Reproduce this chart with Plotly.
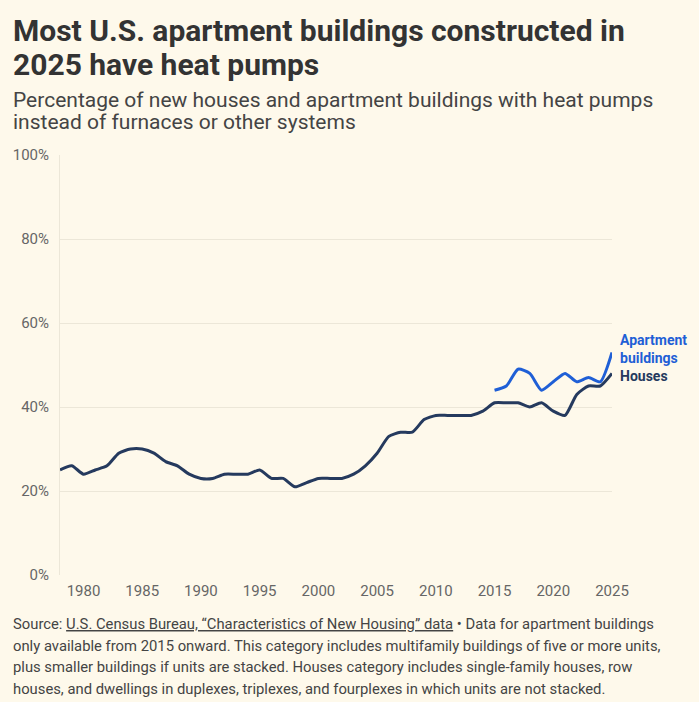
import plotly.graph_objects as go

# values (percent of new units with heat pumps)
years = list(range(1978, 2026))
houses = [25, 26, 24, 25, 26, 29, 30, 30, 29, 27,
          26, 24, 23, 23, 24, 24, 24, 25, 23, 23,
          21, 22, 23, 23, 23, 24, 26, 29, 33, 34,
          34, 37, 38, 38, 38, 38, 39, 41, 41, 41,
          40, 41, 39, 38, 43, 45, 45, 48]
apt_years = list(range(2015, 2026))
apartments = [44, 45, 49, 48, 44, 46, 48, 46, 47, 46, 53]

x_ticks = [1980, 1985, 1990, 1995, 2000, 2005, 2010, 2015, 2020, 2025]
y_ticks = [0, 20, 40, 60, 80, 100]
y_labels = ["0%", "20%", "40%", "60%", "80%", "100%"]

title_lines = ["Most U.S. apartment buildings constructed in",
               "2025 have heat pumps"]
subtitle_lines = ["Percentage of new houses and apartment buildings with heat pumps",
                  "instead of furnaces or other systems"]
footer_lines = [
    "Source: <span style='text-decoration:underline'>U.S. Census Bureau, \u201cCharacteristics of New Housing\u201d data</span>"
    " \u2022 Data for apartment buildings",
    "only available from 2015 onward. This category includes multifamily buildings of five or more units,",
    "plus smaller buildings if units are stacked. Houses category includes single-family houses, row",
    "houses, and dwellings in duplexes, triplexes, and fourplexes in which units are not stacked.",
]

BG = "#fef9eb"
NAVY = "#253a5e"
BLUE = "#1f5fd6"
FONT = "Roboto"

W, H = 699, 702
L, R, T, B = 60, 87, 155, 127
PW, PH = W - L - R, H - T - B


def px_x(x):
    return (x - L) / PW


def px_y(y):
    return (H - B - y) / PH


fig = go.Figure()

fig.add_trace(go.Scatter(
    x=years, y=houses, mode="lines", name="Houses",
    line=dict(color=NAVY, width=3, shape="spline", smoothing=0.6),
    hovertemplate="%{x}: %{y}%<extra>Houses</extra>",
))
fig.add_trace(go.Scatter(
    x=apt_years, y=apartments, mode="lines", name="Apartment buildings",
    line=dict(color=BLUE, width=3, shape="spline", smoothing=0.6),
    hovertemplate="%{x}: %{y}%<extra>Apartment buildings</extra>",
))

# end labels
fig.add_annotation(x=2025, y=apartments[-1], xref="x", yref="y",
                   text="<b>Apartment<br>buildings</b>", showarrow=False,
                   xanchor="left", yanchor="middle", xshift=6, yshift=3,
                   align="left", font=dict(family=FONT, size=14, color=BLUE))
fig.add_annotation(x=2025, y=houses[-1], xref="x", yref="y",
                   text="<b>Houses</b>", showarrow=False,
                   xanchor="left", yanchor="middle", xshift=6, yshift=-2.5,
                   font=dict(family=FONT, size=14, color=NAVY))

# title, subtitle, footer (one annotation per line to control spacing)
for txt, yc in zip(title_lines, [31, 64]):
    fig.add_annotation(x=px_x(11), y=px_y(yc), xref="paper", yref="paper",
                       text="<b>%s</b>" % txt, showarrow=False,
                       xanchor="left", yanchor="middle",
                       font=dict(family=FONT, size=30, color="#333333"))
for txt, yc in zip(subtitle_lines, [100, 122]):
    fig.add_annotation(x=px_x(11), y=px_y(yc), xref="paper", yref="paper",
                       text=txt, showarrow=False, xanchor="left", yanchor="middle",
                       font=dict(family=FONT, size=21, color="#444444"))
for txt, yc in zip(footer_lines, [624, 646, 667, 689]):
    fig.add_annotation(x=px_x(11), y=px_y(yc), xref="paper", yref="paper",
                       text=txt, showarrow=False, xanchor="left", yanchor="middle",
                       font=dict(family=FONT, size=14.8, color="#444444"))

fig.update_layout(
    width=W, height=H,
    margin=dict(l=L, r=R, t=T, b=B),
    paper_bgcolor=BG, plot_bgcolor=BG,
    showlegend=False,
    font=dict(family=FONT, color="#666666"),
)
fig.update_xaxes(range=[1978, 2025], tickvals=x_ticks, ticks="", showgrid=False,
                 zeroline=False, showline=False, ticklabelstandoff=5,
                 tickfont=dict(family=FONT, size=15, color="#666666"))
fig.update_yaxes(range=[0, 100], tickvals=y_ticks, ticktext=y_labels, ticks="",
                 showgrid=True, gridcolor="#ece7d8", gridwidth=1,
                 zeroline=False, showline=True, linecolor="#ece7d8",
                 ticklabelstandoff=7,
                 tickfont=dict(family=FONT, size=15, color="#666666"))

fig.write_html("out.html", config={"displayModeBar": False},
               post_script="document.body.style.margin='0';")
